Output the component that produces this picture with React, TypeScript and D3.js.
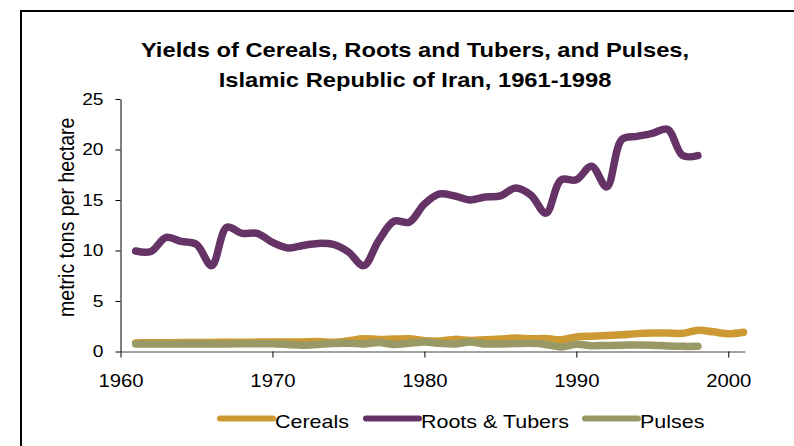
import { useRef, useEffect } from 'react';
import * as d3 from 'd3';

const years = d3.range(1961, 2002);

const cereals = [
  0.85, 0.86, 0.87, 0.88, 0.9, 0.9, 0.92, 0.92, 0.93, 0.94, 0.93, 0.95, 0.98, 0.92, 1.06, 1.26, 1.2,
  1.23, 1.26, 1.06, 1.03, 1.2, 1.1, 1.16, 1.23, 1.33, 1.26, 1.28, 1.17, 1.44, 1.52, 1.59, 1.65, 1.77,
  1.83, 1.83, 1.8, 2.1, 1.95, 1.75, 1.9,
];

const rootsTubers = [
  9.95, 9.9, 11.3, 10.9, 10.6, 8.5, 12.3, 11.7, 11.7, 10.8, 10.25, 10.5, 10.7, 10.6, 9.85, 8.5, 11.0,
  12.9, 12.8, 14.6, 15.6, 15.4, 15.0, 15.3, 15.4, 16.2, 15.5, 13.7, 17.0, 17.0, 18.35, 16.3, 21.0,
  21.3, 21.6, 22.0, 19.4, 19.4,
];

const pulses = [
  0.75, 0.74, 0.74, 0.74, 0.75, 0.75, 0.75, 0.76, 0.76, 0.76, 0.7, 0.62, 0.7, 0.8, 0.81, 0.75, 0.88,
  0.7, 0.81, 0.94, 0.81, 0.75, 0.94, 0.75, 0.75, 0.78, 0.81, 0.7, 0.45, 0.71, 0.58, 0.6, 0.62, 0.65,
  0.62, 0.55, 0.51, 0.51,
];

const xTicks = [1960, 1970, 1980, 1990, 2000];
const yTicks = [0, 5, 10, 15, 20, 25];

const seriesNames = ['Cereals', 'Roots & Tubers', 'Pulses'];
const seriesColors = ['#cc9933', '#663366', '#999966'];

const titleLines = [
  'Yields of Cereals, Roots and Tubers, and Pulses,',
  'Islamic Republic of Iran, 1961-1998',
];

export default function App() {
  const svgRef = useRef<SVGSVGElement>(null);

  useEffect(() => {
    const font = 'Liberation Sans, Arial, sans-serif';
    const wide = 1.13; // the original's text is a bit wider than Arial
    const svg = d3.select(svgRef.current);
    svg.selectAll('*').remove();

    // outer frame (runs off the right and bottom edges)
    svg
      .append('rect')
      .attr('x', 21)
      .attr('y', 11)
      .attr('width', 900)
      .attr('height', 600)
      .attr('fill', 'none')
      .attr('stroke', '#000')
      .attr('stroke-width', 2);

    const left = 120.5;
    const right = 745;
    const top = 99;
    const bottom = 351.5;

    const x = d3.scaleLinear().domain([1960, 2001.1]).range([left, right]);
    const y = d3.scaleLinear().domain([0, 25]).range([bottom, top]);

    svg
      .append('g')
      .attr('font-family', font)
      .attr('font-weight', 'bold')
      .attr('font-size', 21)
      .attr('text-anchor', 'middle')
      .selectAll('text')
      .data(titleLines)
      .join('text')
      .attr('transform', (_, i) => `translate(415,${57 + i * 30}) scale(${wide},1)`)
      .text((d) => d);

    const yAxis = svg
      .append('g')
      .attr('transform', `translate(${left},0)`)
      .call(d3.axisLeft(y).tickValues(yTicks).tickSize(5).tickSizeOuter(0).tickPadding(10));
    yAxis.select('.domain').attr('stroke', '#000');
    yAxis
      .selectAll('text')
      .attr('font-family', font)
      .attr('font-size', 17)
      .attr('fill', '#000')
      .attr('transform', `scale(${wide},1)`);

    const xAxis = svg
      .append('g')
      .attr('transform', `translate(0,${bottom})`)
      .call(
        d3
          .axisBottom(x)
          .tickValues(xTicks)
          .tickFormat(d3.format('d'))
          .tickSize(6)
          .tickSizeOuter(0)
          .tickPadding(17),
      );
    xAxis.select('.domain').attr('stroke', '#444');
    xAxis
      .selectAll('text')
      .attr('font-family', font)
      .attr('font-size', 18)
      .attr('fill', '#000')
      .attr('transform', `scale(${wide},1)`);

    svg
      .append('text')
      .attr('transform', `translate(74,${(top + bottom) / 2 - 8}) scale(${wide},1) rotate(-90)`)
      .attr('text-anchor', 'middle')
      .attr('font-family', font)
      .attr('font-size', 19.5)
      .text('metric tons per hectare');

    const line = d3
      .line<number>()
      .x((_, i) => x(years[i]))
      .y((d) => y(d))
      .curve(d3.curveCatmullRom.alpha(0.5));

    [cereals, rootsTubers, pulses].forEach((values, i) => {
      svg
        .append('path')
        .attr('d', line(values))
        .attr('fill', 'none')
        .attr('stroke', seriesColors[i])
        .attr('stroke-width', 7.5)
        .attr('stroke-linecap', 'round')
        .attr('stroke-linejoin', 'round');
    });

    // legend
    const legendX = [219, 365, 584];
    const legend = svg
      .append('g')
      .selectAll('g')
      .data(seriesNames)
      .join('g')
      .attr('transform', (_, i) => `translate(${legendX[i]},418.5)`);
    legend
      .append('line')
      .attr('x1', 1)
      .attr('x2', 54)
      .attr('stroke', (_, i) => seriesColors[i])
      .attr('stroke-width', 6)
      .attr('stroke-linecap', 'round');
    legend
      .append('text')
      .attr('transform', `translate(56,9.5) scale(${wide},1)`)
      .attr('font-family', font)
      .attr('font-size', 19)
      .text((d) => d);
  }, []);

  return (
    <svg
      ref={svgRef}
      width={794}
      height={446}
      style={{ position: 'fixed', left: 0, top: 0, background: '#fff' }}
    />
  );
}
